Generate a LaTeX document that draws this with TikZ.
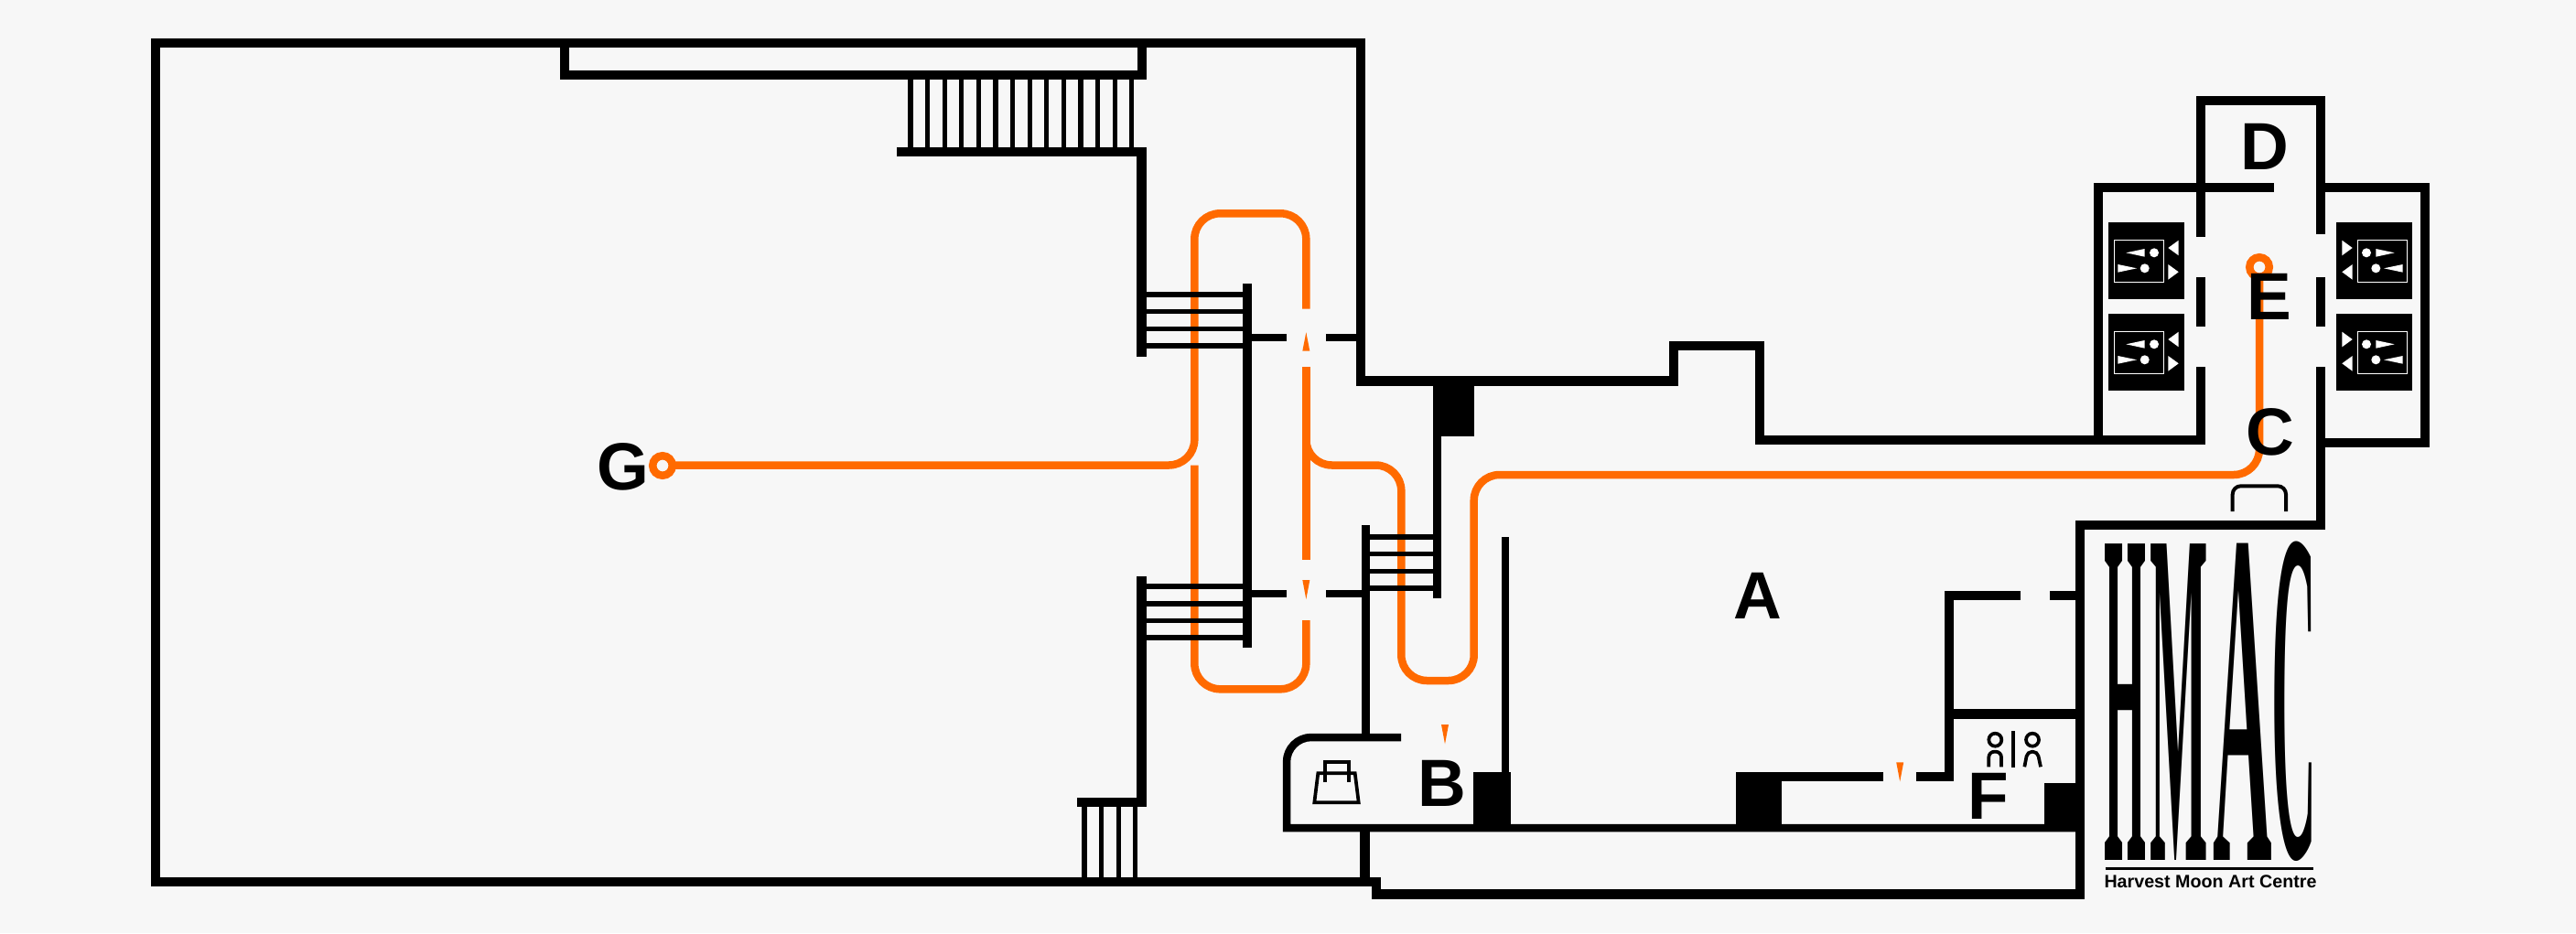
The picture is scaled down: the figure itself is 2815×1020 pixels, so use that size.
\documentclass[tikz,border=0pt]{standalone}
\usepackage{fontspec}
\setmainfont{Liberation Sans}
\newfontfamily\logofont{Liberation Serif}
\definecolor{paper}{HTML}{F7F7F7}
\definecolor{route}{HTML}{FF6A00}
\tikzset{
wall/.style={line width=10.5pt,draw=black},
slimwall/.style={line width=8.8pt,draw=black},
rail/.style={line width=5.2pt,draw=black},
routeline/.style={line width=8.5pt,draw=route},
icon/.style={line width=3.7pt,draw=black},
stopring/.style={circle,minimum size=21.5pt,outer sep=0pt,inner sep=0pt,line width=8.5pt,draw=route,fill=paper},
roomlabel/.style={anchor=base,inner sep=0pt,font=\fontsize{73}{73}\selectfont\bfseries},
logoletter/.style={anchor=south west,inner sep=0pt,font=\logofont\bfseries},
lift/.pic={
\fill[black] (0,0) rectangle (83,84);
\draw[white,line width=1pt] (6,19) rectangle (60,65);
\fill[white] (65.3,28) -- (76.7,19.7) -- (76.7,36.3) -- cycle;
\fill[white] (76.7,54.3) -- (65.3,46) -- (65.3,62.7) -- cycle;
\fill[white] (50,33.3) circle (5);
\fill[white] (39.7,50.3) circle (5);
\fill[white] (19.3,33.3) -- (39.7,29) -- (39.7,37.7) -- cycle;
\fill[white] (31,50.3) -- (10.3,46) -- (10.3,54.7) -- cycle;
}
}
\begin{document}
\begin{tikzpicture}[x=1pt,y=-1pt]
		\fill[paper] (0,0) rectangle (2815,1020);
		\useasboundingbox (0,0) rectangle (2815,1020);

		% route
		\draw[routeline,rounded corners=28pt] (730,508.5) -- (1305.3,508.5) -- (1305.3,233.3) -- (1427.3,233.3) -- (1427.3,337.7);
		\draw[routeline] (1427.3,401) -- (1427.3,611.7);
		\draw[routeline,rounded corners=28pt] (1427.3,678) -- (1427.3,753.3) -- (1305.3,753.3) -- (1305.3,508.7);
		\draw[routeline,rounded corners=28pt] (1427.3,460) -- (1427.3,508.5) -- (1531.3,508.5) -- (1531.3,744) -- (1610.7,744) -- (1610.7,519) -- (2469,519) -- (2469,292);
		\fill[route] (1427.3,363.3) -- (1431.3,383.7) -- (1423.3,383.7) -- cycle;
		\fill[route] (1427.3,655) -- (1431.3,634) -- (1423.3,634) -- cycle;
		\fill[route] (1579,813.3) -- (1583,792) -- (1575,792) -- cycle;
		\fill[route] (2076.2,854.3) -- (2080.2,833.3) -- (2072.2,833.3) -- cycle;
		\node[stopring] (stopG) at (724,509) {};
		\node[stopring] (stopE) at (2469,292) {};

		% outer walls
		\draw[wall] (170,964) -- (170,47) -- (1487,47) -- (1487,416.5) -- (1829,416.5) -- (1829,378) -- (1923,378) -- (1923,481) -- (2410,481);
		\draw[wall] (165,964) -- (1504,964) -- (1504,977.5) -- (2273,977.5) -- (2273,574) -- (2536,574) -- (2536,401);
		\draw[wall] (617,46.5) -- (617,82) -- (1248,82) -- (1248,46.5);

		% lobby
		\draw[wall] (2293,481) -- (2293,205) -- (2485,205);
		\draw[wall] (2405,259) -- (2405,110) -- (2536,110) -- (2536,256);
		\draw[wall] (2405,303) -- (2405,357);
		\draw[wall] (2405,401) -- (2405,486);
		\draw[wall] (2536,303) -- (2536,357);
		\draw[wall] (2536,205) -- (2650,205) -- (2650,484) -- (2536,484);
		\pic at (2304,243) {lift};
		\pic at (2304,343) {lift};
		\pic[xscale=-1] at (2636,243) {lift};
		\pic[xscale=-1] at (2636,343) {lift};

		% stairs
		\foreach \barx in {0,...,13}
			\draw[rail] ({995+18.6*\barx},87) -- ({995+18.6*\barx},161);
		\draw[wall] (980,166) -- (1247.5,166) -- (1247.5,390);
		\foreach \raily in {322,340.7,359.3,378}
			\draw[rail] (1247,\raily) -- (1363,\raily);
		\foreach \raily in {641,660,678.5,697}
			\draw[rail] (1247,\raily) -- (1363,\raily);
		\foreach \raily in {587,605.8,624.5,643}
			\draw[rail] (1492,\raily) -- (1571,\raily);
		\foreach \barx in {1185,1203.7,1222.3,1240.7}
			\draw[rail] (\barx,882) -- (\barx,960);
		\draw[wall] (1247.5,630) -- (1247.5,877) -- (1176.7,877);
		\draw[wall] (1363,310) -- (1363,707.7);
		\draw[slimwall] (1368,369) -- (1406,369);
		\draw[slimwall] (1449,369) -- (1483,369);
		\draw[slimwall] (1368,649) -- (1406,649);
		\draw[slimwall] (1449,649) -- (1488,649);
		\draw[wall,line width=9.3pt] (1492.5,574) -- (1492.5,806);
		\draw[wall,line width=9.5pt] (1570.7,470) -- (1570.7,654);

		% ground floor
		\draw[routeline,draw=black] (1531,806) [rounded corners=27pt] -- (1406,806) [sharp corners] -- (1406,905) -- (2273,905);
		\draw[wall] (1491.7,905) -- (1491.7,960);
		\draw[routeline,draw=black] (1645,587) -- (1645,846);
		\fill[black] (1565.7,421) rectangle (1610.7,476.7);
		\fill[black] (1610.3,844) rectangle (1650.7,901);
		\fill[black] (1896.7,844) rectangle (1936.7,901);
		\fill[black] (2234,855.7) rectangle (2268,901);
		\draw[wall] (1941.5,901) -- (1941.5,849) -- (2058.3,849);
		\draw[wall] (2093.7,849) -- (2130,849) -- (2130,650.8) -- (2208,650.8);
		\draw[wall] (2240,650.8) -- (2268,650.8);
		\draw[wall] (2135,780.7) -- (2268,780.7);

		% shop and toilet signs
		\draw[icon] (1436.3,877.3) -- (1484.7,877.3) -- (1480.7,845.3) -- (1440.3,845.3) -- cycle;
		\draw[icon] (1447.7,855) -- (1447.7,832.7) -- (1473.7,832.7) -- (1473.7,855);
		\draw[icon] (2180.3,808.7) circle (7);
		\draw[icon] (2221,808.7) circle (7);
		\draw[icon,rounded corners=6pt] (2173.3,838.3) -- (2173.3,821.7) -- (2187,821.7) -- (2187,838.3);
		\draw[icon,rounded corners=5pt] (2212.3,838.3) -- (2215.5,821.7) -- (2226.5,821.7) -- (2230,838.3);
		\draw[icon,line width=4.3pt] (2199.8,799) -- (2199.8,838.7);
		\draw[icon,line width=4pt,rounded corners=9pt] (2439.7,559) -- (2439.7,531.3) -- (2498,531.3) -- (2498,559);

		% room letters
		\node[roomlabel] (roomA) at (1921,676.7) {A};
		\node[roomlabel] (roomB) at (1575.7,881) {B};
		\node[roomlabel] (roomC) at (2481.3,497) {C};
		\node[roomlabel] (roomD) at (2474.7,185) {D};
		\node[roomlabel] (roomE) at (2480,349.3) {E};
		\node[roomlabel] (roomF) at (2172.7,895) {F};
		\node[roomlabel] (roomG) at (680.5,535) {G};

		% logo
		\node[logoletter] (logoH) at (2299.5,941) {\resizebox*{46pt}{345pt}{H}};
		\node[logoletter] (logoM) at (2349,941) {\resizebox*{63.5pt}{345pt}{M}};
		\node[logoletter] (logoA) at (2418,941) {\resizebox*{64.5pt}{346pt}{A}};
		\node[logoletter] (logoC) at (2482,941.5) {\resizebox*{49pt}{348pt}{C}};
		\draw[line width=2.5pt] (2300.7,949.5) -- (2528,949.5);
		\node[anchor=base,inner sep=0pt,font=\fontsize{19.7}{20}\selectfont\bfseries] (logoname) at (2415.5,970.7) {Harvest Moon Art Centre};
\end{tikzpicture}
\end{document}
